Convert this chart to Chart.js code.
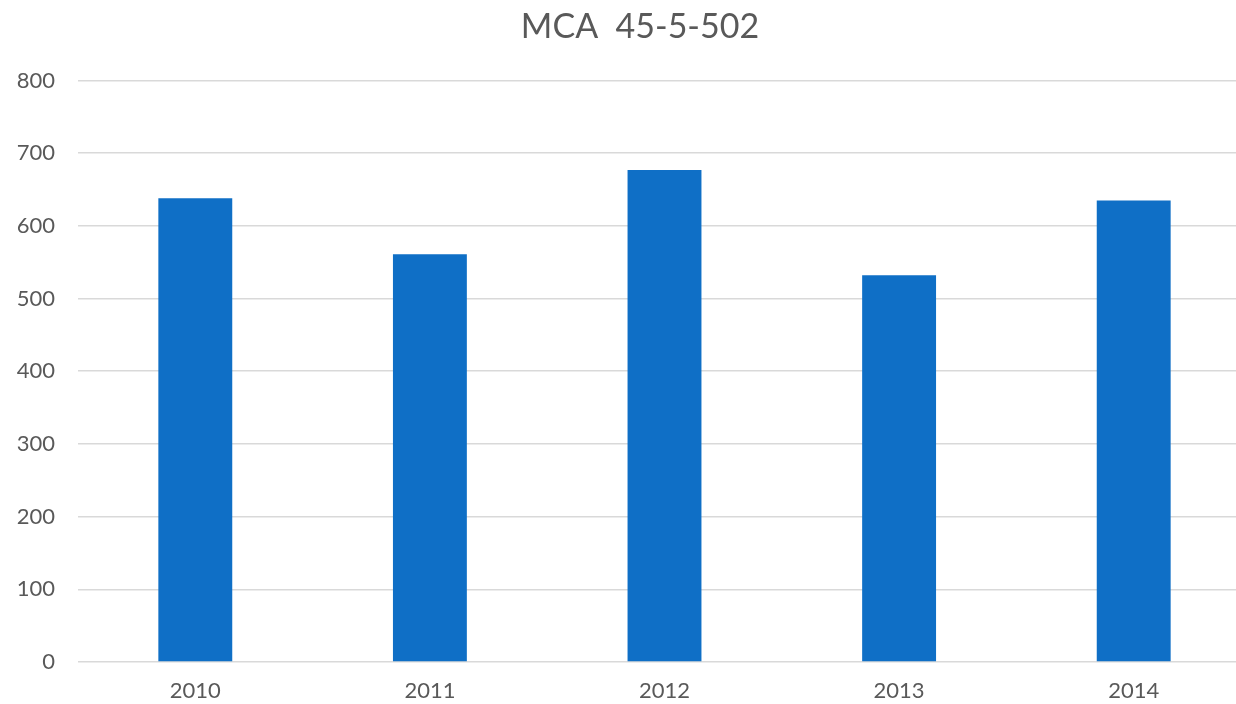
<!DOCTYPE html>
<html lang="en">
<head>
    <meta charset="UTF-8">
    <title>MCA 45-5-502</title>
    <style>
        body {
            margin: 0;
            padding: 0;
            background: #fff;
            overflow: hidden;
        }

        .wrap {
            width: 1236px;
            height: 704px;
            overflow: hidden;
        }
    </style>
</head>
<body>
    <div class="wrap">
        <canvas id="chart" width="1280" height="704"></canvas>
    </div>

    <script src="https://cdn.jsdelivr.net/npm/chart.js"></script>
    <script>
        const chartTitle = 'MCA  45-5-502';
        const years = ['2010', '2011', '2012', '2013', '2014'];
        const counts = [638, 561, 677, 532, 635];
        const yTicks = [0, 100, 200, 300, 400, 500, 600, 700, 800];

        const textColor = '#595959';
        const gridColor = '#d9d9d9';

        // title centred on the whole canvas (the built-in one ignores the right padding)
        const centredTitle = {
            id: 'centredTitle',
            afterDraw(chart) {
                const ctx = chart.ctx;
                ctx.save();
                ctx.font = 'normal 34px Lato';
                ctx.fillStyle = textColor;
                ctx.textAlign = 'center';
                ctx.textBaseline = 'middle';
                ctx.fillText(chartTitle, chart.width / 2, 27);
                ctx.restore();
            }
        };

        new Chart(document.getElementById('chart').getContext('2d'), {
            type: 'bar',
            data: {
                labels: years,
                datasets: [{
                    label: chartTitle,
                    data: counts,
                    backgroundColor: '#0f6fc6',
                    barPercentage: 0.315,
                    categoryPercentage: 1
                }]
            },
            options: {
                responsive: false,
                animation: false,
                // plot runs a little past the visible window on the right, like the original
                layout: { padding: { left: 0, right: 29, top: 80.5, bottom: 0 } },
                plugins: {
                    legend: { display: false },
                    tooltip: { enabled: false },
                    title: { display: false }
                },
                scales: {
                    x: {
                        grid: { display: false, drawTicks: false },
                        border: { display: false },
                        ticks: {
                            color: textColor,
                            font: { family: 'Lato', size: 22 },
                            padding: 16
                        },
                        afterFit: (scale) => { scale.height = 42; }
                    },
                    y: {
                        min: 0,
                        max: 800,
                        afterBuildTicks: (scale) => {
                            scale.ticks = yTicks.map(v => ({ value: v }));
                        },
                        grid: { color: gridColor, lineWidth: 1.6, drawTicks: false },
                        border: { display: false },
                        ticks: {
                            color: textColor,
                            font: { family: 'Lato', size: 22 },
                            padding: 23
                        },
                        afterFit: (scale) => { scale.width = 78; }
                    }
                }
            },
            plugins: [centredTitle]
        });
    </script>
</body>
</html>
